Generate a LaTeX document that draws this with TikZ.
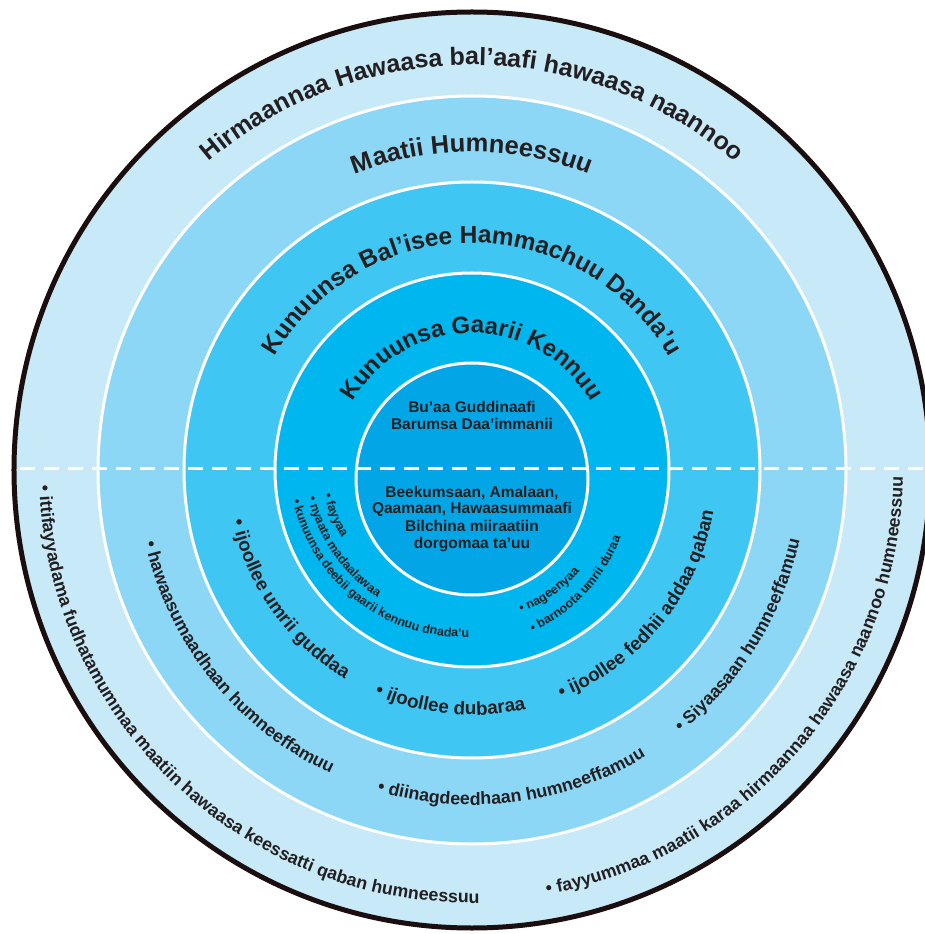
\documentclass[tikz,border=0pt]{standalone}
\usepackage{fontspec}
\setmainfont{Liberation Sans}
\usetikzlibrary{decorations.text}

\definecolor{ringA}{HTML}{C7E9F8}
\definecolor{ringB}{HTML}{8DD7F6}
\definecolor{ringC}{HTML}{40C6F3}
\definecolor{ringD}{HTML}{00B6EE}
\definecolor{ringE}{HTML}{02A6E7}
\definecolor{txtdark}{HTML}{231F20}
\definecolor{rimdark}{HTML}{1A0E0E}

\newcommand{\ringfont}[1]{\fontsize{#1}{#1}\selectfont\bfseries}

\begin{document}
\begin{tikzpicture}[x=1pt,y=1pt,
    ring/.style={draw=white,line width=3pt},
    toparc/.style 2 args={decorate,decoration={text along path,text align=center,text color=txtdark,text={|\ringfont{#1}|#2}}},
    botarc/.style 2 args={decorate,decoration={text along path,text color=txtdark,text={|\ringfont{#1}|#2}}},
    innertext/.style={text=txtdark,font=\ringfont{15.5},anchor=base,inner sep=0pt}]
		\useasboundingbox (-472,-464) rectangle (453,470);
		\clip (-472,-464) rectangle (453,470);
		\fill[white] (-472,-464) rectangle (453,470);

		% the rings
		\filldraw[fill=ringA,draw=rimdark,line width=5pt] (0,0) circle (458);
		\filldraw[ring,fill=ringB] (0,0) circle (374);
		\filldraw[ring,fill=ringC] (0,0) circle (288);
		\filldraw[ring,fill=ringD] (0,0) circle (197);
		\filldraw[ring,fill=ringE] (0,-9) circle (116);

		% dashed divider
		\draw[white,line width=3pt,dash pattern=on 15pt off 9pt] (-452,1) -- (453,1);

		% ring titles
		\path[toparc={25}{Hirmaannaa Hawaasa bal’aafi hawaasa naannoo}] (175:405) arc[start angle=175,end angle=5,radius=405];
		\path[toparc={25.5}{Maatii Humneessuu}] (175:318) arc[start angle=175,end angle=5,radius=318];
		\path[toparc={24.5}{Kunuunsa Bal’isee Hammachuu Danda’u}] (175:227) arc[start angle=175,end angle=5,radius=227];
		\path[toparc={24}{Kunuunsa Gaarii Kennuu}] (175:137) arc[start angle=175,end angle=5,radius=137];

		% centre
		\node[innertext] (resA) at (0,57) {Bu’aa Guddinaafi};
		\node[innertext] (resB) at (0,40) {Barumsa Daa’immanii};
		\node[innertext] (domA) at (0,-28) {Beekumsaan, Amalaan,};
		\node[innertext] (domB) at (0,-44) {Qaamaan, Hawaasummaafi};
		\node[innertext] (domC) at (0,-61) {Bilchina miiraatiin};
		\node[innertext] (domD) at (0,-78) {dorgomaa ta’uu};

		% outer ring items
		\path[botarc={17.8}{• ittifayyadama fudhatamummaa maatiin hawaasa keessatti qaban humneessuu}] (182:433) arc[start angle=182,end angle=300,radius=433];
		\path[botarc={17.8}{• fayyummaa maatii karaa hirmaannaa hawaasa naannoo humneessuu}] (280:431) arc[start angle=280,end angle=375,radius=431];

		% family ring items
		\path[botarc={17.8}{• hawaasumaadhaan humneeffamuu}] (192.5:335) arc[start angle=192.5,end angle=260,radius=335];
		\path[botarc={17.8}{• diinagdeedhaan humneeffamuu}] (253.5:335) arc[start angle=253.5,end angle=320,radius=335];
		\path[botarc={17.8}{• Siyaasaan humneeffamuu}] (308.5:335) arc[start angle=308.5,end angle=370,radius=335];

		% care ring items
		\path[botarc={18.8}{• ijoollee umrii guddaa}] (192:245) arc[start angle=192,end angle=250,radius=245];
		\path[botarc={18.8}{• ijoollee dubaraa}] (246.5:245) arc[start angle=246.5,end angle=300,radius=245];
		\path[botarc={18.8}{• ijoollee fedhii addaa qaban}] (291.3:245) arc[start angle=291.3,end angle=365,radius=245];

		% inner ring items
		\path[botarc={12.5}{• fayyaa}] plot[domain=189.5:240,samples=40] (\x:{150-0.18*(\x-189.5)});
		\path[botarc={12.5}{• nyaata madaalawaa}] plot[domain=189.5:260,samples=50] (\x:{166-0.17*(\x-189.5)});
		\path[botarc={12.5}{• kunuunsa deebii gaarii kennuu dnada’u}] plot[domain=189.5:290,samples=80] (\x:{182-0.19*(\x-189.5)});
		\path[botarc={12.5}{• nageenyaa}] plot[domain=289:340,samples=40] (\x:{151-0.12*(\x-289)});
		\path[botarc={12.5}{• barnoota umrii duraa}] plot[domain=290.5:360,samples=50] (\x:{173-0.22*(\x-290.5)});
\end{tikzpicture}
\end{document}
